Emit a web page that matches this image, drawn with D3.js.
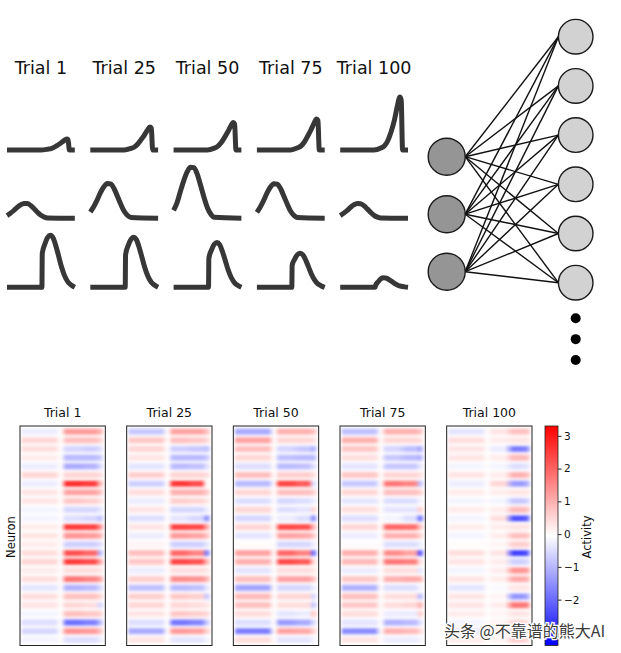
<!DOCTYPE html>
<html>
<head>
<meta charset="utf-8">
<script src="https://cdn.jsdelivr.net/npm/d3@7"></script>
<style>
body { margin: 0; background: #fff; }
text { font-family: "DejaVu Sans", sans-serif; }
</style>
</head>
<body>
<script>
// trial names used by both panels
const trials = ["Trial 1", "Trial 25", "Trial 50", "Trial 75", "Trial 100"]

// tuning curves: x grid per row, heights (px) per trial
const row1X = [0, 0.5, 0.6, 0.65, 0.7, 0.75, 0.8, 0.84, 0.88, 0.9, 0.92, 1.0]
const row1H = [
    [0, 0, 0.8, 1.4, 2.9, 5, 7.3, 9.4, 11, 10.4, 0, 0],
    [0, 0, 1.6, 3, 6, 10.4, 15.2, 19.6, 23, 21.8, 0, 0],
    [0, 0, 1.9, 3.6, 7.2, 12.4, 18.2, 23.4, 27.5, 26, 0, 0],
    [0, 0, 2.2, 4, 8, 14, 20.5, 26.4, 31, 29.4, 0, 0],
    [0, 0, 2, 4, 9, 18, 30, 43, 53, 50, 0, 0]
]
const row2X = [0, 0.05, 0.1, 0.15, 0.2, 0.25, 0.3, 0.35, 0.4, 0.45, 0.5, 0.55, 0.6, 1.0]
const row2H = [
    [2.7, 5, 7.8, 11, 13.5, 14.9, 14.7, 12.8, 9.5, 6, 3, 1.2, 0.3, 0],
    [6.3, 11.6, 18.2, 25.6, 31.5, 34.7, 34.3, 29.8, 22, 14, 7, 2.8, 0.7, 0],
    [8, 15.5, 26.8, 37.7, 46.4, 51.1, 50.6, 43.9, 32.5, 20.6, 10.3, 4.1, 1, 0],
    [6, 11.4, 18, 25.4, 31.3, 34.6, 34.2, 29.6, 21.8, 13.8, 6.8, 2.7, 0.7, 0],
    [2.8, 5, 7.6, 10.8, 13.4, 14.8, 14.6, 12.6, 9.4, 5.9, 2.9, 1.1, 0.3, 0]
]
const row3X = [0, 0.515, 0.52, 0.56, 0.6, 0.64, 0.68, 0.72, 0.76, 0.8, 0.85, 0.9, 0.95, 1.0]
const row3H = [
    [0, 0, 34, 43.5, 50, 52, 49.4, 41.6, 31.7, 21.3, 11.4, 5.2, 2.1, 0],
    [0, 0, 32.5, 42, 48, 50, 47.5, 40, 30.5, 20.5, 11, 5, 2, 0],
    [0, 0, 29, 37.5, 43, 44.7, 42.5, 35.8, 27.3, 18.3, 9.8, 4.5, 1.8, 0],
    [0, 0, 22, 28.5, 32.8, 34, 32.3, 27.2, 20.7, 13.9, 7.5, 3.4, 1.4, 0],
    [0, 0, 1.5, 5.5, 8.6, 9.6, 9.1, 7.7, 5.9, 3.9, 2.1, 1, 0.4, 0]
]

// network layers
const inputNodes = [0, 1, 2]
const outputNodes = [0, 1, 2, 3, 4, 5]
const moreDots = [0, 1, 2]

// heatmap activity per neuron band: [left, right-a, right-b, right end]
const heat1 = [
    [-0.3, 1.3, 1.3, 1.0], [0.5, 0.8, 0.8, 0.6], [0.4, -0.6, -0.7, -0.5], [0.2, -1.0, -1.0, -0.8],
    [-0.3, -1.2, -1.1, -0.6], [0.5, 0.5, 0.5, 0.4], [-0.3, 2.8, 2.6, 1.0], [0.3, 1.2, 1.2, 0.8],
    [0.3, 0.7, 0.6, 0.4], [-0.2, -0.6, -0.6, -0.4], [-0.2, -0.5, -0.6, -0.9], [0.2, 2.6, 2.5, 1.5],
    [0.3, 1.4, 1.3, 1.0], [0.2, -0.7, -0.7, -0.5], [0.4, 2.3, 2.0, -1.0], [0.5, 2.6, 2.4, 1.2],
    [0.2, 0.4, 0.4, 0.3], [0.4, 1.8, 1.6, 1.2], [-0.4, -1.1, -1.0, -0.6], [0.4, 0.8, 0.8, 0.5],
    [0.3, 0.5, 0.4, -0.6], [-0.2, 0.8, 0.7, 0.6], [-0.5, -2.0, -1.8, -1.0], [-0.6, 1.4, 1.3, 0.8],
    [-0.2, -0.5, -0.5, -0.3]
]
const heat25 = [
    [-0.8, 1.2, 1.2, 0.8], [0.7, 0.8, 0.7, 0.5], [0.5, -0.7, -0.8, -0.9], [0.3, -1.0, -1.0, -0.8],
    [-0.4, -1.0, -0.9, -0.5], [0.6, 0.5, 0.5, 0.4], [-0.7, 2.7, 2.4, 0.0], [0.4, 1.0, 1.0, 0.7],
    [-0.3, 0.6, 0.5, 0.3], [0.3, -0.6, -0.6, -0.3], [-0.5, -0.4, -0.6, -1.6], [0.3, 2.5, 2.4, 1.2],
    [-0.3, 1.3, 1.2, 0.8], [0.1, -0.7, -0.7, -0.4], [0.8, 2.0, 1.6, -1.8], [0.7, 2.5, 2.3, 1.0],
    [-0.3, 0.4, 0.4, 0.3], [0.6, 1.5, 1.4, 1.0], [-0.9, -1.0, -0.9, -0.4], [0.6, 0.7, 0.6, -0.8],
    [0.5, 0.5, 0.4, 0.3], [0.3, 0.7, 0.6, 0.5], [-0.5, -1.9, -1.7, -0.8], [-1.2, 1.3, 1.2, 0.6],
    [0.3, -0.4, -0.4, -0.2]
]
const heat50 = [
    [-1.2, 1.0, 1.0, 0.8], [1.2, 0.5, 0.5, 0.4], [0.8, -0.6, -0.8, -1.1], [0.5, -0.9, -1.0, -1.0],
    [-0.5, -1.0, -0.9, -0.5], [0.8, 0.6, 0.6, 0.4], [-1.0, 2.5, 2.2, -0.5], [0.5, 0.8, 0.8, 0.6],
    [-0.5, -0.6, -0.5, -0.3], [0.5, -0.5, -0.4, 0.5], [-0.6, -0.3, -0.5, -1.6], [0.5, 2.4, 2.3, 1.0],
    [-0.4, 1.2, 1.1, 0.7], [0.0, -0.6, -0.6, -0.3], [1.2, 2.0, 1.6, -2.0], [1.0, 2.4, 2.2, 0.5],
    [-0.4, 0.4, 0.4, 0.3], [0.8, 1.2, 1.2, 0.8], [-1.3, -0.6, -0.6, -0.3], [0.9, 0.5, 0.5, -0.6],
    [0.8, 0.4, 0.4, -0.8], [0.4, -0.4, -0.3, 0.7], [-0.5, -1.4, -1.2, -0.6], [-1.8, 1.2, 1.1, 0.6],
    [0.4, -0.4, -0.4, -0.2]
]
const heat75 = [
    [-0.9, 1.0, 1.0, 0.8], [1.0, 0.5, 0.5, 0.4], [0.7, -0.6, -0.9, -1.2], [0.4, -0.8, -1.0, -1.1],
    [-0.4, -0.8, -0.8, -0.4], [0.7, 0.5, 0.5, 0.4], [-0.8, 1.8, 1.6, -0.9], [0.5, 0.8, 0.8, 0.6],
    [-0.4, -0.5, -0.5, -0.2], [0.4, -0.4, -0.4, 0.6], [-0.5, -0.2, -0.5, -2.0], [0.5, 2.0, 1.9, 0.8],
    [-0.3, 1.0, 1.0, 0.6], [0.0, -0.5, -0.5, -0.3], [1.0, 1.5, 1.2, -2.4], [0.9, 1.8, 1.7, 0.4],
    [-0.3, 0.4, 0.4, -0.4], [0.7, 1.0, 1.1, 1.0], [-1.1, -0.5, -0.5, -0.2], [0.8, 0.4, 0.4, -1.0],
    [0.7, 0.4, 0.5, 1.0], [0.4, -0.3, -0.3, 0.6], [-0.4, -1.1, -1.0, -0.5], [-1.6, 1.0, 0.9, 0.5],
    [0.3, -0.3, -0.3, -0.2]
]
const heat100 = [
    [-0.4, 0.3, 0.8, 0.8], [0.4, 0.2, 0.3, 0.3], [0.3, -0.3, -1.8, -1.6], [0.3, 0.2, 0.9, 0.8],
    [-0.2, -0.2, -0.5, -0.4], [0.3, 0.2, 1.0, 0.9], [-0.3, 0.5, -1.4, -1.2], [0.2, 0.2, 0.3, 0.3],
    [-0.2, -0.2, -0.8, -0.7], [0.2, 0.2, 0.9, 0.8], [-0.2, 0.4, -2.4, -2.2], [0.2, 0.2, 0.3, 0.3],
    [-0.2, 0.2, 0.8, 0.8], [0.0, 0.1, 0.6, 0.6], [0.4, 0.3, -2.6, -2.4], [0.3, 0.2, -0.7, -0.6],
    [-0.2, 0.2, 1.4, 1.3], [0.3, 0.2, 1.1, 1.0], [-0.4, -0.1, 0.3, 0.3], [0.3, 0.1, -1.5, -1.3],
    [0.3, 0.2, 1.8, 1.7], [0.2, 0.1, 0.3, 0.3], [-0.2, 0.1, 0.5, 0.4], [-0.4, 0.2, 0.4, 0.4],
    [0.2, 0.1, 0.6, 0.5]
]
const heatmaps = [heat1, heat25, heat50, heat75, heat100]
const colorTicks = [-2, -1, 0, 1, 2, 3]

var w = 621
var h = 653

var svg = d3.select("body").append("svg")
    .attr("width", w)
    .attr("height", h)
    .style("background", "#fff")

var defs = svg.append("defs")

// ---------- top left: tuning curves ----------
const colX = d3.scaleBand().domain(d3.range(5)).range([7, 408]).paddingInner(0.186).paddingOuter(0)
const baselines = [150, 218.3, 287.3]
const rowsX = [row1X, row2X, row3X]
const rowsH = [row1H, row2H, row3H]

svg.selectAll(".toptitle")
    .data(trials)
    .enter()
    .append("text")
    .attr("class", "toptitle")
    .attr("x", (d, i) => colX(i) + colX.bandwidth() / 2)
    .attr("y", 74)
    .attr("text-anchor", "middle")
    .attr("font-size", 17.5)
    .attr("fill", "#111")
    .text(d => d)

rowsX.forEach((xs, r) => {
    const yScale = d3.scaleLinear().domain([0, 60]).range([baselines[r], baselines[r] - 60])
    rowsH[r].forEach((hs, t) => {
        const xScale = d3.scaleLinear().domain([0, 1]).range([colX(t), colX(t) + colX.bandwidth()])
        const line = d3.line()
            .x((d, i) => xScale(xs[i]))
            .y(d => yScale(d))
            .curve(d3.curveMonotoneX)
        svg.append("path")
            .attr("d", line(hs))
            .attr("fill", "none")
            .attr("stroke", "#373737")
            .attr("stroke-width", 5)
            .attr("stroke-linejoin", "round")
    })
})

// ---------- top right: network ----------
const inX = 446.7, outX = 575.7, rIn = 18.5, rOut = 17.3
const inY = d3.scaleLinear().domain([0, 2]).range([156.7, 271.7])
const outY = d3.scaleLinear().domain([0, 5]).range([36.7, 282.7])
const dotY = d3.scaleLinear().domain([0, 2]).range([318.3, 360])

const links = []
inputNodes.forEach(a => outputNodes.forEach(b => links.push([a, b])))

svg.selectAll(".link")
    .data(links)
    .enter()
    .append("line")
    .attr("class", "link")
    .attr("x1", inX + rIn)
    .attr("y1", d => inY(d[0]))
    .attr("x2", outX - rOut)
    .attr("y2", d => outY(d[1]))
    .attr("stroke", "#111")
    .attr("stroke-width", 1.4)

svg.selectAll(".innode")
    .data(inputNodes)
    .enter()
    .append("circle")
    .attr("cx", inX)
    .attr("cy", d => inY(d))
    .attr("r", rIn)
    .attr("fill", "#959595")
    .attr("stroke", "#1a1a1a")
    .attr("stroke-width", 1.4)

svg.selectAll(".outnode")
    .data(outputNodes)
    .enter()
    .append("circle")
    .attr("cx", outX)
    .attr("cy", d => outY(d))
    .attr("r", rOut)
    .attr("fill", "#d2d2d2")
    .attr("stroke", "#1a1a1a")
    .attr("stroke-width", 1.4)

svg.selectAll(".dot")
    .data(moreDots)
    .enter()
    .append("circle")
    .attr("cx", outX)
    .attr("cy", d => dotY(d))
    .attr("r", 5)
    .attr("fill", "#000")

// ---------- bottom: heatmaps ----------
const vmin = -3.4, vmax = 3.3
const color = d3.scaleLinear().domain([vmin, (vmin + vmax) / 2, vmax]).range(["#0000ff", "#ffffff", "#ff0000"])
const hmX = d3.scaleBand().domain(d3.range(5)).range([20, 532]).paddingInner(0.2).paddingOuter(0)
const hmTop = 426, hmBottom = 645.5
const rowY = d3.scaleBand().domain(d3.range(25)).range([hmTop, hmBottom]).padding(0.3)
// gradient stop positions inside a row: [edge, left, left, gap, ra, ra, rb, rb, end, edge]
const stopPos = [0, 0.04, 0.41, 0.48, 0.54, 0.68, 0.78, 0.88, 0.94, 1.0]

defs.append("filter")
    .attr("id", "soft")
    .attr("x", "-5%").attr("y", "-5%").attr("width", "110%").attr("height", "110%")
    .append("feGaussianBlur")
    .attr("stdDeviation", "0.9 1.5")

heatmaps.forEach((rows, t) => {
    const x0 = hmX(t), bw = hmX.bandwidth()
    defs.append("clipPath").attr("id", "clip" + t)
        .append("rect").attr("x", x0).attr("y", hmTop).attr("width", bw).attr("height", hmBottom - hmTop)

    rows.forEach((v, i) => {
        const vals = [0, v[0], v[0], 0, v[1], v[1], v[2], v[2], v[3], 0]
        const grad = defs.append("linearGradient").attr("id", "g" + t + "_" + i)
        grad.selectAll("stop")
            .data(vals)
            .enter()
            .append("stop")
            .attr("offset", (d, k) => stopPos[k])
            .attr("stop-color", d => color(d))
    })

    const g = svg.append("g").attr("clip-path", "url(#clip" + t + ")")
    g.append("g")
        .attr("filter", "url(#soft)")
        .selectAll("rect")
        .data(rows)
        .enter()
        .append("rect")
        .attr("x", x0)
        .attr("y", (d, i) => rowY(i))
        .attr("width", bw)
        .attr("height", rowY.bandwidth())
        .attr("fill", (d, i) => "url(#g" + t + "_" + i + ")")

    svg.append("rect")
        .attr("x", x0).attr("y", hmTop)
        .attr("width", bw).attr("height", hmBottom - hmTop)
        .attr("fill", "none")
        .attr("stroke", "#222")
        .attr("stroke-width", 1)

    svg.append("text")
        .attr("x", x0 + bw / 2)
        .attr("y", 416.5)
        .attr("text-anchor", "middle")
        .attr("font-size", 12.5)
        .attr("fill", "#111")
        .text(trials[t])
})

svg.append("text")
    .attr("transform", "translate(15, 537) rotate(-90)")
    .attr("text-anchor", "middle")
    .attr("font-size", 11.5)
    .attr("fill", "#111")
    .text("Neuron")

// ---------- colorbar ----------
const cbX = 545, cbW = 13
const cbScale = d3.scaleLinear().domain([vmin, vmax]).range([hmBottom, hmTop])
const cbGrad = defs.append("linearGradient").attr("id", "cbgrad")
    .attr("x1", 0).attr("y1", 1).attr("x2", 0).attr("y2", 0)
cbGrad.selectAll("stop")
    .data([vmin, (vmin + vmax) / 2, vmax])
    .enter()
    .append("stop")
    .attr("offset", d => (d - vmin) / (vmax - vmin))
    .attr("stop-color", d => color(d))

svg.append("rect")
    .attr("x", cbX).attr("y", hmTop)
    .attr("width", cbW).attr("height", hmBottom - hmTop)
    .attr("fill", "url(#cbgrad)")
    .attr("stroke", "#222")
    .attr("stroke-width", 0.8)

const cbAxis = d3.axisRight(cbScale)
    .tickValues(colorTicks)
    .tickSize(3.5)
    .tickPadding(2.5)
    .tickFormat(d => d < 0 ? "\u2212" + Math.abs(d) : d)

const cbG = svg.append("g")
    .attr("transform", "translate(" + (cbX + cbW) + ",0)")
    .call(cbAxis)
cbG.select(".domain").remove()
cbG.selectAll("text").attr("font-size", 10.5).attr("fill", "#111").style("font-family", "DejaVu Sans")
cbG.selectAll("line").attr("stroke", "#222")

svg.append("text")
    .attr("transform", "translate(591, 537) rotate(-90)")
    .attr("text-anchor", "middle")
    .attr("font-size", 11.5)
    .attr("fill", "#111")
    .text("Activity")

// watermark
svg.append("text")
    .attr("x", 444)
    .attr("y", 637)
    .attr("font-size", 16)
    .style("font-family", "'Noto Sans CJK SC', sans-serif")
    .attr("fill", "#3a3a3a")
    .attr("stroke", "#fff")
    .attr("stroke-width", 2.5)
    .attr("paint-order", "stroke")
    .text("头条 @不靠谱的熊大AI")
</script>
</body>
</html>
